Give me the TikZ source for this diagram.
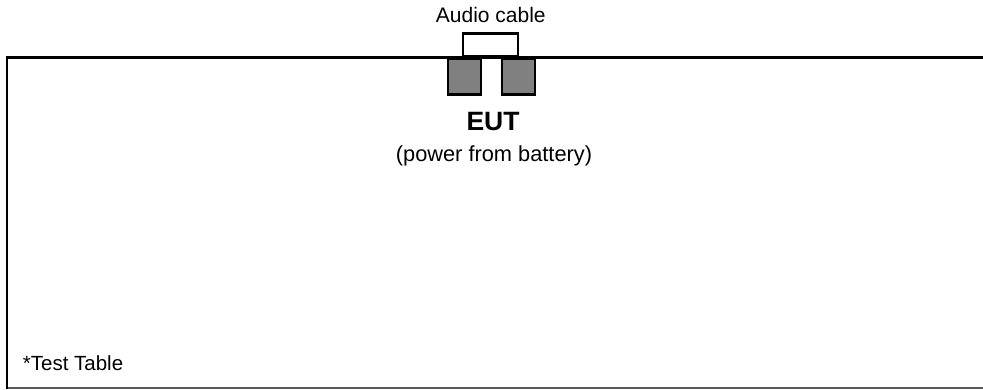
\documentclass[tikz,border=0pt]{standalone}
\usepackage{fontspec}
\setmainfont{Liberation Sans}
\begin{document}
\begin{tikzpicture}[x=1pt,y=-1pt,
  port/.style={draw=black, line width=2.5pt, fill={rgb,255:red,128;green,128;blue,128}, minimum width=33pt, minimum height=36pt, inner sep=0pt},
  cable/.style={draw=black, line width=2.5pt, fill=white, minimum width=55pt, minimum height=23pt, inner sep=0pt},
  lbl/.style={inner sep=0pt, font=\fontsize{21}{25}\selectfont},
  border/.style={line width=2.5pt, black}]
\useasboundingbox (0,0) rectangle (983,389);
% table
\coordinate (tl) at (7,57.5);
\coordinate (tr) at (983,57.5);
\coordinate (bl) at (7,389);
\coordinate (bl2) at (7,388.2);
\coordinate (br) at (983,388.2);
\draw[line width=1.5pt, black!65] (bl2) -- (br);
\draw[border] (tr) -- (tl) -- (bl);
% cable and ports
\node[cable] (cab) at (490.7,45.2) {};
\node[port] (p1) at (464.7,76.5) {};
\node[port] (p2) at (518.5,76.5) {};
% labels
\node[lbl, anchor=base] (audio) at (490.8,22.7) {Audio cable};
\node[lbl, anchor=base, font=\fontsize{26.5}{30}\selectfont\bfseries] (eut) at (493,130) {EUT};
\node[lbl, anchor=base, font=\fontsize{21.8}{25}\selectfont] (pwr) at (494,161.5) {(power from battery)};
\node[lbl, anchor=base west, font=\fontsize{20.5}{24}\selectfont] (tt) at (22.7,370.7) {*Test Table};
\end{tikzpicture}
\end{document}
